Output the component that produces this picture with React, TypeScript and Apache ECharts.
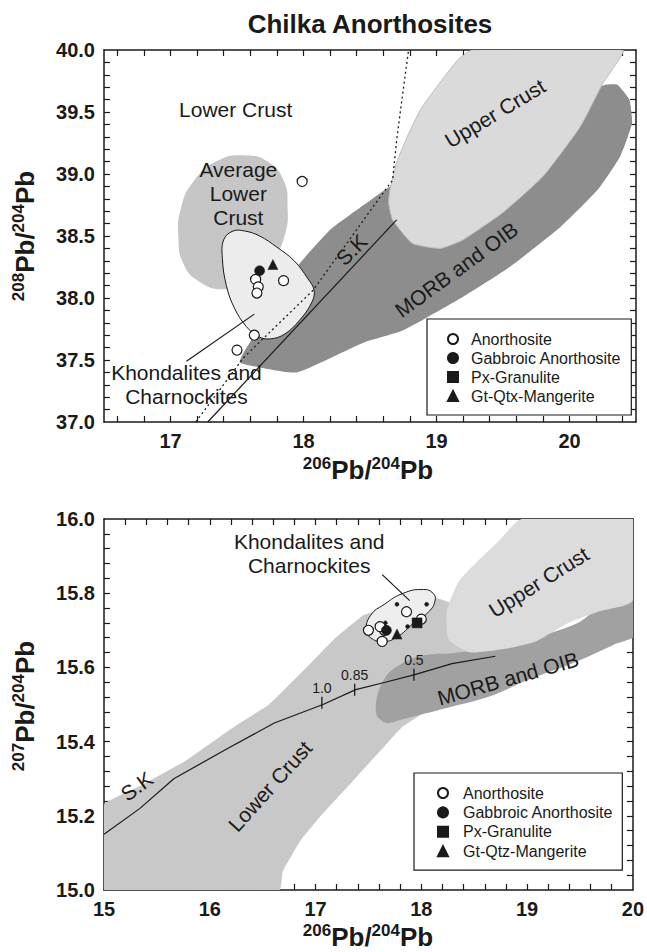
import { useEffect, useRef } from 'react';
import * as echarts from 'echarts';

const FONT = '"Liberation Sans", Arial, Helvetica, sans-serif';
const INK = '#1a1a1a';

// ---------- tick labels ----------
const topXLabels = [17, 18, 19, 20];
const topYLabels = [37.0, 37.5, 38.0, 38.5, 39.0, 39.5, 40.0];
const bottomXLabels = [15, 16, 17, 18, 19, 20];
const bottomYLabels = [15.0, 15.2, 15.4, 15.6, 15.8, 16.0];

const tickRange = (from: number, to: number, step: number) => {
  const out: number[] = [];
  const n = Math.round((to - from) / step);
  for (let i = 0; i <= n; i++) out.push(+(from + i * step).toFixed(3));
  return out;
};
const topXTicks = tickRange(16.6, 20.4, 0.2);
const topYTicks = tickRange(37.1, 39.9, 0.1);
const bottomXTicks = tickRange(15.2, 19.8, 0.2);
const bottomYTicks = tickRange(15.04, 15.96, 0.04);

// ---------- top panel (208Pb/204Pb vs 206Pb/204Pb) ----------
const topAvgLowerCrust = [
  [17.56, 39.15], [17.73, 39.1], [17.85, 38.95], [17.88, 38.75], [17.86, 38.51], [17.76, 38.29],
  [17.6, 38.13], [17.41, 38.07], [17.22, 38.13], [17.1, 38.27], [17.06, 38.48], [17.08, 38.73],
  [17.18, 38.95], [17.36, 39.11],
];
const topMorbOib = [
  [17.55, 37.56], [17.75, 37.9], [17.95, 38.25], [18.2, 38.55], [18.4, 38.71], [18.65, 38.9],
  [19.1, 39.19], [19.78, 39.52], [20.27, 39.72], [20.36, 39.72], [20.45, 39.6], [20.47, 39.41],
  [20.38, 39.14], [20.21, 38.87], [19.93, 38.57], [19.55, 38.25], [19.2, 38.01], [18.75, 37.74],
  [18.45, 37.64], [17.95, 37.4], [17.67, 37.44], [17.52, 37.48],
];
const topUpperCrust = [
  [19.27, 40.0], [20.4, 40.0], [20.25, 39.73], [20.08, 39.38], [19.8, 38.98], [19.5, 38.69],
  [19.2, 38.47], [19.03, 38.4], [18.82, 38.44], [18.67, 38.63], [18.64, 38.77], [18.65, 38.87],
  [18.7, 39.09], [18.78, 39.3], [18.88, 39.52], [19.0, 39.7], [19.16, 39.92],
];
const topKhondaliteField = [
  [17.47, 38.54], [17.4, 38.47], [17.39, 38.32], [17.42, 38.1], [17.48, 37.92], [17.57, 37.77],
  [17.66, 37.69], [17.75, 37.67], [17.86, 37.71], [17.97, 37.82], [18.06, 37.96], [18.08, 38.06],
  [18.03, 38.16], [17.93, 38.3], [17.8, 38.41], [17.67, 38.5], [17.56, 38.54],
];
const topSK = [[17.28, 37.0], [18.7, 38.63]];
const topDotted = [
  [17.19, 37.0], [17.55, 37.52], [18.07, 38.06], [18.6, 38.85], [18.67, 38.95], [18.7, 39.27],
  [18.74, 39.6], [18.79, 40.0],
];
const topLeader = [[17.12, 37.49], [17.63, 37.87]];

const topAnorthosite = [
  [17.99, 38.94], [17.64, 38.15], [17.66, 38.09], [17.65, 38.04], [17.85, 38.14], [17.63, 37.7], [17.5, 37.58],
];
const topGabbroic = [[17.67, 38.22]];
const topPxGranulite: number[][] = [];
const topGtQtx = [[17.77, 38.27]];

const topAnnotations = [
  { name: 'Lower Crust', value: [17.49, 39.52], rotate: 0 },
  { name: 'Average\nLower\nCrust', value: [17.51, 38.84], rotate: 0 },
  { name: 'Khondalites and\nCharnockites', value: [17.12, 37.3], rotate: 0 },
  { name: 'Upper Crust', value: [19.44, 39.49], rotate: 31 },
  { name: 'MORB and OIB', value: [19.15, 38.23], rotate: 36 },
  { name: 'S.K', value: [18.36, 38.39], rotate: 45 },
];

// ---------- bottom panel (207Pb/204Pb vs 206Pb/204Pb) ----------
const bottomLowerCrust = [
  [15.0, 15.23], [15.34, 15.28], [15.78, 15.35], [16.23, 15.44], [16.56, 15.5], [16.88, 15.59],
  [17.19, 15.68], [17.45, 15.74], [17.66, 15.76], [17.82, 15.78], [18.1, 15.79], [18.31, 15.77],
  [18.45, 15.67], [18.35, 15.54], [17.98, 15.47], [17.82, 15.44], [17.66, 15.39], [17.34, 15.29],
  [17.05, 15.2], [16.85, 15.13], [16.69, 15.05], [16.66, 15.0], [15.0, 15.0],
];
const bottomUpperCrust = [
  [18.95, 16.0], [20.0, 16.0], [20.0, 15.78], [19.67, 15.75], [19.39, 15.72], [19.08, 15.67],
  [18.79, 15.65], [18.47, 15.64], [18.32, 15.66], [18.25, 15.68], [18.24, 15.75], [18.35, 15.83],
  [18.51, 15.88], [18.73, 15.94],
];
const bottomMorbOib = [
  [17.57, 15.5], [17.6, 15.54], [17.71, 15.59], [17.98, 15.63], [18.35, 15.64], [18.92, 15.67],
  [19.48, 15.72], [19.76, 15.78], [19.95, 15.79], [20.05, 15.75], [20.05, 15.69], [19.81, 15.66],
  [19.42, 15.61], [19.04, 15.57], [18.63, 15.52], [18.23, 15.49], [17.82, 15.46], [17.67, 15.45],
  [17.58, 15.47],
];
const bottomKhondaliteField = [
  [17.48, 15.7], [17.52, 15.74], [17.65, 15.77], [17.83, 15.8], [18.02, 15.81], [18.11, 15.8],
  [18.13, 15.78], [18.07, 15.75], [17.93, 15.72], [17.76, 15.68], [17.63, 15.67], [17.52, 15.68],
];
const bottomSK = [
  [15.0, 15.15], [15.34, 15.22], [15.66, 15.3], [16.16, 15.38], [16.61, 15.45], [17.07, 15.5],
  [17.38, 15.54], [17.66, 15.56], [17.93, 15.58], [18.29, 15.61], [18.7, 15.63],
];
const bottomSKMarks = [
  { name: '1.0', value: [17.06, 15.505] },
  { name: '0.85', value: [17.37, 15.54] },
  { name: '0.5', value: [17.93, 15.58] },
];
const bottomLeader = [[17.63, 15.85], [17.89, 15.78]];

const bottomAnorthosite = [
  [17.5, 15.7], [17.86, 15.75], [18.0, 15.73], [17.65, 15.7], [17.63, 15.67], [17.61, 15.71],
];
const bottomGabbroic = [[17.67, 15.7]];
const bottomPxGranulite = [[17.96, 15.72]];
const bottomGtQtz = [[17.77, 15.69]];
const bottomKhondalites = [[17.77, 15.77], [18.05, 15.77], [17.87, 15.71], [17.66, 15.72]];

const bottomAnnotations = [
  { name: 'Khondalites and\nCharnockites', value: [16.94, 15.906], rotate: 0 },
  { name: 'Upper Crust', value: [19.11, 15.83], rotate: 32 },
  { name: 'MORB and OIB', value: [18.82, 15.57], rotate: 16 },
  { name: 'S.K', value: [15.31, 15.28], rotate: 36 },
  { name: 'Lower Crust', value: [16.57, 15.28], rotate: 48 },
];

const topLegendNames = ['Anorthosite', 'Gabbroic Anorthosite', 'Px-Granulite', 'Gt-Qtx-Mangerite'];
const bottomLegendNames = ['Anorthosite', 'Gabbroic Anorthosite', 'Px-Granulite', 'Gt-Qtz-Mangerite'];
const legendIcons = ['circle', 'circle', 'rect', 'triangle'];

// ---------- builders ----------
const axis = (
  gridIndex: number, position: string, min: number, max: number,
  tickVals: number[], labelVals: number[], showLabel: boolean, fmt: (v: number) => string,
) => ({
  type: 'value', gridIndex, position, min, max,
  axisLine: { show: true, onZero: false, lineStyle: { color: INK, width: 1.5 } },
  axisTick: { show: true, inside: true, length: 6, customValues: tickVals, lineStyle: { color: INK, width: 1.2 } },
  axisLabel: {
    show: showLabel, customValues: labelVals, formatter: fmt, fontFamily: FONT, fontWeight: 'bold',
    fontSize: 20, color: INK, margin: 9,
  },
  splitLine: { show: false },
});

const polygon = (name: string, pts: number[][], g: number, fill: string, stroke: string | null, smooth: number) => ({
  type: 'custom', name, xAxisIndex: g * 2, yAxisIndex: g * 2, clip: true, silent: true,
  data: pts, encode: { x: 0, y: 1 },
  renderItem: (params: any, api: any) => {
    if (params.dataIndex !== 0) return null;
    const points = pts.map((p) => api.coord(p));
    return {
      type: 'polygon', shape: { points, smooth },
      style: { fill, stroke: stroke || 'none', lineWidth: 1 },
    };
  },
});

const line = (name: string, pts: number[][], g: number, dotted = false) => ({
  type: 'line', name, xAxisIndex: g * 2, yAxisIndex: g * 2, data: pts, symbol: 'none', silent: true,
  lineStyle: { color: INK, width: dotted ? 1.3 : 1.2, type: dotted ? [2, 3] : 'solid' },
});

const points = (name: string, pts: number[][], g: number, symbol: string, size: number, open = false) => ({
  type: 'scatter', name, xAxisIndex: g * 2, yAxisIndex: g * 2, data: pts, symbol, symbolSize: size,
  itemStyle: open
    ? { color: '#fff', borderColor: INK, borderWidth: 1.2, opacity: 1 }
    : { color: INK, borderColor: INK, borderWidth: 0.5, opacity: 1 },
});

const annotations = (items: any[], g: number) => ({
  type: 'scatter', name: 'annotations' + g, xAxisIndex: g * 2, yAxisIndex: g * 2, symbolSize: 0, silent: true,
  itemStyle: { color: 'transparent', opacity: 1 },
  data: items.map((a) => ({ name: a.name, value: a.value, label: { rotate: a.rotate } })),
  label: {
    show: true, position: 'inside', formatter: '{b}', fontFamily: FONT, fontSize: 21, color: INK,
    lineHeight: 24, align: 'center', verticalAlign: 'middle',
  },
});

const axisTitle = (x: number, y: number, sup1: string, sup2: string, rotation: number) => ({
  type: 'text', x, y, rotation,
  style: {
    text: `{s|${sup1}}{b|Pb/}{s|${sup2}}{b|Pb}`, align: 'center', verticalAlign: 'middle', fill: INK,
    rich: {
      b: { fontSize: 26, fontWeight: 'bold', fontFamily: FONT, lineHeight: 30, fill: INK },
      s: { fontSize: 17, fontWeight: 'bold', fontFamily: FONT, lineHeight: 10, verticalAlign: 'top', fill: INK },
    },
  },
});

const legend = (names: string[], left: number, top: number, padding: number[], gap: number, textPad: number) => ({
  data: names.map((n, i) => ({ name: n, icon: legendIcons[i] })),
  orient: 'vertical', left, top, padding, itemGap: gap, itemWidth: 10, itemHeight: 10,
  borderColor: INK, borderWidth: 1.2, borderRadius: 0, backgroundColor: '#fff', selectedMode: false,
  textStyle: { fontFamily: FONT, fontSize: 16, color: INK, lineHeight: 16, padding: [0, 0, 0, textPad] },
});

const option = {
  animation: false,
  backgroundColor: '#fff',
  grid: [
    { left: 104, top: 50, width: 532, height: 372 },
    { left: 104, top: 519, width: 531, height: 371 },
  ],
  xAxis: [
    axis(0, 'bottom', 16.5, 20.5, topXTicks, topXLabels, true, (v) => String(v)),
    axis(0, 'top', 16.5, 20.5, topXTicks, topXLabels, false, (v) => String(v)),
    axis(1, 'bottom', 15, 20, bottomXTicks, bottomXLabels, true, (v) => String(v)),
    axis(1, 'top', 15, 20, bottomXTicks, bottomXLabels, false, (v) => String(v)),
  ],
  yAxis: [
    axis(0, 'left', 37, 40, topYTicks, topYLabels, true, (v) => v.toFixed(1)),
    axis(0, 'right', 37, 40, topYTicks, topYLabels, false, (v) => v.toFixed(1)),
    axis(1, 'left', 15, 16, bottomYTicks, bottomYLabels, true, (v) => v.toFixed(1)),
    axis(1, 'right', 15, 16, bottomYTicks, bottomYLabels, false, (v) => v.toFixed(1)),
  ],
  legend: [
    legend(topLegendNames, 427, 319, [12, 10, 11, 20], 3, 8),
    legend(bottomLegendNames, 414, 773, [12, 9, 11, 23], 3.4, 10),
  ],
  graphic: [
    {
      type: 'text', x: 370, y: 24,
      style: { text: 'Chilka Anorthosites', font: `bold 26px ${FONT}`, fill: INK, align: 'center', verticalAlign: 'middle' },
    },
    axisTitle(368, 470, '206', '204', 0),
    axisTitle(368, 937, '206', '204', 0),
    axisTitle(25, 236, '208', '204', Math.PI / 2),
    axisTitle(25, 706, '207', '204', Math.PI / 2),
  ],
  series: [
    // top panel
    polygon('topAvgLowerCrust', topAvgLowerCrust, 0, '#c6c6c6', null, 0.5),
    polygon('topMorbOib', topMorbOib, 0, '#8d8d8d', null, 0.15),
    polygon('topUpperCrust', topUpperCrust, 0, '#dadada', '#bdbdbd', 0.15),
    polygon('topKhondaliteField', topKhondaliteField, 0, '#ececec', INK, 0.4),
    line('topDotted', topDotted, 0, true),
    line('topSK', topSK, 0),
    line('topLeader', topLeader, 0),
    points('Anorthosite', topAnorthosite, 0, 'circle', 10, true),
    points('Gabbroic Anorthosite', topGabbroic, 0, 'circle', 10),
    points('Px-Granulite', topPxGranulite, 0, 'rect', 9),
    points('Gt-Qtx-Mangerite', topGtQtx, 0, 'triangle', 10),
    annotations(topAnnotations, 0),
    // bottom panel
    polygon('bottomLowerCrust', bottomLowerCrust, 1, '#c8c8c8', null, 0.1),
    polygon('bottomMorbOib', bottomMorbOib, 1, '#a1a1a1', null, 0.3),
    polygon('bottomUpperCrust', bottomUpperCrust, 1, '#dcdcdc', null, 0.2),
    polygon('bottomKhondaliteField', bottomKhondaliteField, 1, '#eeeeee', INK, 0.5),
    line('bottomSK', bottomSK, 1),
    line('bottomLeader', bottomLeader, 1),
    {
      type: 'scatter', name: 'skMarks', xAxisIndex: 2, yAxisIndex: 2, symbol: 'rect', symbolSize: [1.3, 12],
      silent: true, itemStyle: { color: INK, opacity: 1 }, data: bottomSKMarks,
      label: { show: true, position: 'top', distance: 2, formatter: '{b}', fontFamily: FONT, fontSize: 14, color: INK },
    },
    points('Khondalites', bottomKhondalites, 1, 'circle', 4),
    points('Anorthosite', bottomAnorthosite, 1, 'circle', 10, true),
    points('Gabbroic Anorthosite', bottomGabbroic, 1, 'circle', 10),
    points('Px-Granulite', bottomPxGranulite, 1, 'rect', 10),
    points('Gt-Qtz-Mangerite', bottomGtQtz, 1, 'triangle', 10),
    annotations(bottomAnnotations, 1),
  ],
};

export default function App() {
  const ref = useRef<HTMLDivElement>(null);
  useEffect(() => {
    const chart = echarts.init(ref.current!, null, { renderer: 'svg' });
    chart.setOption(option as any);
    return () => chart.dispose();
  }, []);
  return (
    <div
      ref={ref}
      style={{ position: 'absolute', left: 0, top: 0, width: 647, height: 952, background: '#fff' }}
    />
  );
}
